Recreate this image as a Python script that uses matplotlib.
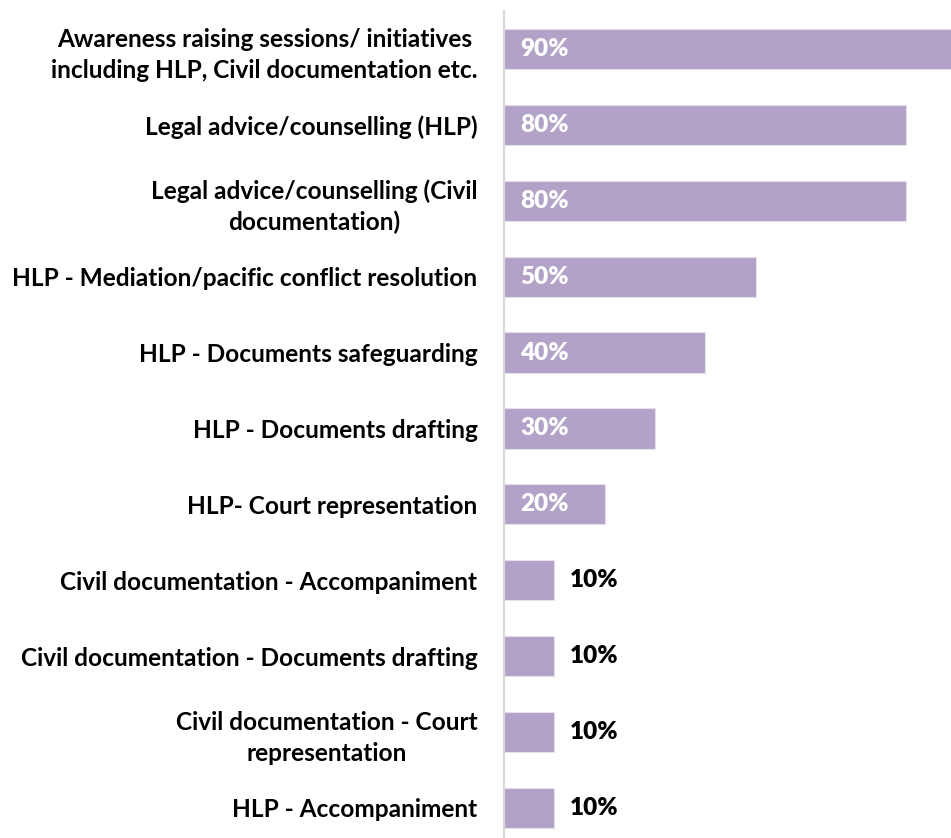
import matplotlib
matplotlib.use("Agg")
import matplotlib.pyplot as plt

categories = [
    "Awareness raising sessions/ initiatives\nincluding HLP, Civil documentation etc.",
    "Legal advice/counselling (HLP)",
    "Legal advice/counselling (Civil\ndocumentation)",
    "HLP - Mediation/pacific conflict resolution",
    "HLP - Documents safeguarding",
    "HLP - Documents drafting",
    "HLP- Court representation",
    "Civil documentation - Accompaniment",
    "Civil documentation - Documents drafting",
    "Civil documentation - Court\nrepresentation",
    "HLP - Accompaniment",
]
values = [90, 80, 80, 50, 40, 30, 20, 10, 10, 10, 10]

W, H = 951, 838
fig = plt.figure(figsize=(W / 100, H / 100), dpi=100)
x0 = 504 / W
bottom_px = 11 + 75.9 * 11
ax = fig.add_axes([x0, 1 - bottom_px / H, 1 - x0, bottom_px / H - 11 / H])

font = "Lato"
n = len(categories)
ypos = list(range(n))
ax.barh(ypos, values, height=0.53, color="#b3a2c7", edgecolor="#e6e0ee", linewidth=0.8)
ax.set_ylim(n - 0.5, -0.5)
ax.set_xlim(0, (W - 504) / 5.03)

for y, v in zip(ypos, values):
    if v >= 20:
        ax.text(3.2, y, f"{v}%", color="white", fontsize=17.5, fontweight="heavy",
                family=font, va="center", ha="left")
    else:
        ax.text(v + 3.0, y, f"{v}%", color="black", fontsize=17.5, fontweight="heavy",
                family=font, va="center", ha="left")

ax.set_yticks(ypos)
ax.set_yticklabels(categories, fontsize=17.6, fontweight="bold", family=font,
                   ha="right", multialignment="center", linespacing=1.4)
ax.tick_params(axis="y", length=0, pad=19)
ax.set_xticks([])
for s in ["top", "right", "bottom"]:
    ax.spines[s].set_visible(False)
ax.spines["left"].set_color("#d9d9d9")
ax.spines["left"].set_linewidth(1.5)

fig.savefig("out.png", dpi=100)
